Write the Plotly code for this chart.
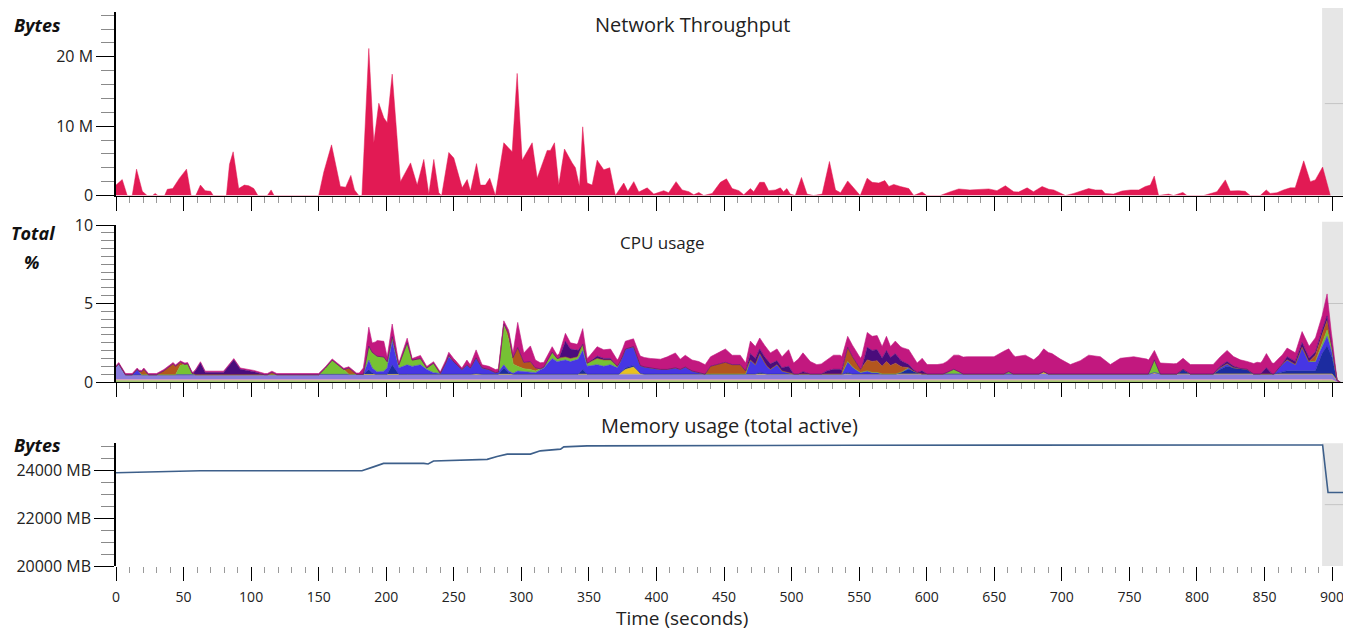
import plotly.graph_objects as go

# ---------------- DATA ----------------
# Network throughput (time in s, value in MB/s -> shown as "M")
NET_T = [0, 4.6, 8.3, 12, 15.2, 19.5, 23, 27, 29, 31, 36, 38, 42, 47, 52.2, 55.6, 59, 62.5, 66, 70, 72,
         81.7, 84, 86.7, 90.8, 95, 98.3, 102, 105, 112, 114.8, 117, 150, 153.8, 159.5, 166, 170, 173.8, 176.5,
         179.7, 182, 187.1, 190.8, 194.5, 198.2, 200.7, 204.4, 210.5, 218, 222.9, 227.8, 231.5, 235.2, 238.9,
         241, 246.3, 250, 256.2, 259.9, 262.3, 266.8, 269.7, 273.4, 276.6, 280.8, 287, 293.2, 296.9, 300.6,
         308, 311.7, 319.1, 321.5, 324.5, 327.7, 331.9, 337.6, 340, 343, 345.4, 348.7, 352.4, 356.1, 361,
         365.4, 369.6, 375.8, 378.8, 383.2, 386.9, 393.1, 398, 405.4, 409, 414.5, 419, 424, 427.6, 431.3, 435,
         441.2, 447.3, 451.8, 456, 461, 464.6, 469.5, 472, 476.4, 479.8, 483, 488, 491.7, 494, 496.5, 499,
         502.7, 507.3, 511.4, 516.3, 522.6, 528, 532.5, 536.2, 541.5, 547, 550.8, 555.9, 559.6, 564.5, 569,
         572, 575.6, 580.5, 586.7, 590.4, 596.6, 600, 610, 617.5, 623.7, 632, 639.7, 645.9, 652, 658.2, 664.4,
         668, 674.3, 679, 685.4, 690.4, 694, 700.2, 702.7, 708.8, 713.8, 719.8, 724.8, 729.7, 732, 738.2,
         744.6, 750.8, 757, 761.8, 765.5, 768.4, 771.6, 779, 782.7, 789.6, 792.6, 805, 814.8, 821, 824.6,
         830.8, 835.7, 839.4, 846.8, 851.3, 854.2, 859.2, 864, 869, 872.7, 879, 883.9, 887.6, 893, 898.7]
NET_M = [1.5, 2.3, 0, 0, 3.8, 0.6, 0, 0, 0.3, 0, 0, 0.9, 1.0, 2.5, 3.8, 0, 0, 1.5, 0.7, 0.6, 0,
         0, 4.5, 6.3, 1.0, 1.5, 1.4, 1.0, 0, 0, 0.8, 0, 0, 3.4, 7.3, 1.3, 1.2, 2.9, 0.8,
         0, 0, 21.2, 7.6, 13.3, 11.2, 10.5, 17.5, 2.0, 4.7, 1.5, 5.2, 0.2, 5.2, 0.4,
         0, 6.2, 5.4, 1.1, 2.3, 0.6, 4.6, 1.5, 1.5, 2.5, 0, 7.6, 6.3, 17.6, 5.1,
         7.6, 2.5, 6.5, 6.5, 7.6, 1.5, 6.7, 4.7, 4.0, 1.3, 9.9, 1.8, 1.5, 5.1, 3.7,
         4.0, 0, 1.8, 0.6, 2.0, 0.5, 1.1, 0.2, 0.7, 0.4, 2.0, 0.8, 0.55, 0.1, 0.45, 0,
         0.3, 1.9, 2.4, 1.0, 0.7, 0.1, 1.0, 0.55, 1.9, 1.9, 0.7, 0.8, 1.1, 0.55, 1.0, 0.2,
         0, 2.6, 0.2, 0, 0.2, 4.9, 0.8, 0.4, 2.1, 0.9, 0, 2.5, 1.9, 1.8, 2.15,
         1.3, 1.6, 1.3, 1.0, 0, 0.5, 0, 0, 0.55, 0.95, 0.8, 0.85, 0.95, 0.7, 1.4, 0.55,
         0.5, 1.1, 0.55, 1.3, 0.9, 0.8, 0.3, 0, 0.3, 0.65, 1.0, 0.8, 0.8, 0.3, 0.2,
         0.65, 0.8, 0.8, 1.3, 1.5, 2.8, 0, 0.2, 0, 0.45, 0, 0, 0.55, 2.25, 0.65,
         0.7, 0.6, 0, 0, 0.8, 0.3, 0.4, 0.8, 1.1, 1.1, 5.0, 2.0, 2.25, 4.1, 0]

# CPU usage layers (stacked, bottom -> top), time in s, value in %
CPU_BASE_GREEN_T = [0, 900, 903.7, 906]
CPU_BASE_GREEN_V = [0.1, 0.1, 0, 0]
CPU_BASE_PINK_T = [0, 900, 903.7, 906]
CPU_BASE_PINK_V = [0.06, 0.06, 0, 0]
CPU_LAVENDER_T = [0, 2, 7, 150, 155, 600, 900, 903.7, 906]
CPU_LAVENDER_V = [0.8, 1.0, 0.3, 0.3, 0.33, 0.35, 0.35, 0.1, 0]
CPU_GOLD_T = [0, 372, 377, 383, 388, 391, 683, 686.6, 690, 765, 768.5, 772, 906]
CPU_GOLD_V = [0, 0, 0.3, 0.45, 0.05, 0, 0, 0.15, 0, 0, 0.1, 0, 0]
CPU_NAVY_T = [0, 183, 187.1, 189.6, 192, 200.7, 204.4, 209.3, 263, 266.5, 270, 283, 287, 290.6, 294,
              342, 345.4, 348.7, 373, 377, 383, 387, 473.2, 476.4, 480, 538, 541.5, 545, 577, 580.5,
              586.7, 592.9, 596, 785, 789.7, 795.1, 812, 817.3, 822.3, 827.2, 837, 842, 857, 861.7,
              866.7, 872.8, 877.8, 882.7, 887.6, 892.6, 896.3, 899.5, 903.7, 906]
CPU_NAVY_V = [0, 0, 0.3, 0.1, 0, 0, 0.6, 0, 0, 0.05, 0, 0, 0.4, 0.1, 0,
              0, 0.3, 0, 0, 0.1, 0.1, 0, 0, 0.1, 0, 0, 0.1, 0, 0, 0.1,
              0.3, 0.1, 0, 0, 0.3, 0, 0, 0.3, 0.5, 0.4, 0.3, 0, 0, 0.1,
              0.2, 0.2, 0.2, 0.2, 0.2, 1.3, 1.8, 1.2, 0, 0]
CPU_BLUE_T = [0, 12, 15.7, 19, 183, 187.1, 189.6, 193.3, 198.2, 200.7, 204.4, 209.3, 215.5, 219.2,
              225.3, 230, 235, 240, 246.3, 251, 256, 259.7, 262.2, 266.5, 271, 276, 280.8, 287, 290.6,
              293.8, 297.3, 301.8, 306.7, 310.4, 316.6, 322.8, 326.5, 332.6, 336.3, 341.3, 345.4, 348.7,
              356.1, 361, 366, 371, 377, 383, 388, 395.4, 403, 408, 414, 417.6, 421.3, 426.3, 431.3,
              435, 466, 469.5, 473.2, 476.4, 481.8, 484.3, 489.2, 492.9, 497.8, 501.5, 537, 541.5,
              547.2, 551, 556, 559.6, 563.3, 567, 582, 586.7, 590, 812, 817.3, 822.3, 827, 857,
              861.7, 866.7, 872.8, 877.8, 882.7, 887.6, 892.6, 896.3, 899.5, 903.7, 906]
CPU_BLUE_V = [0, 0, 0.35, 0, 0, 0.6, 0.3, 0.15, 0.2, 0.4, 1.5, 0.4, 0.6, 0.5,
              0.6, 0.3, 0.1, 0.05, 1.1, 0.7, 0.3, 0.6, 0.4, 1.0, 0.4, 0.3, 0.1, 0.2, 0.1,
              0.05, 0.2, 0.15, 0.1, 0.1, 0.4, 1.0, 0.8, 0.9, 0.8, 0.9, 1.2, 0.5,
              0.6, 0.5, 0.6, 0.4, 1.2, 1.2, 0.5, 0.4, 0.3, 0.3, 0.4, 0.3, 0.45, 0.2, 0.1,
              0, 0, 0.9, 0.6, 1.2, 0.5, 0.3, 0.6, 0.2, 0.1, 0, 0, 0.7,
              0.3, 0.1, 0.2, 0.1, 0.1, 0, 0, 0.1, 0, 0, 0.1, 0.15, 0, 0,
              0.4, 0.7, 0.4, 1.5, 0.6, 0.6, 0.4, 0.6, 0.3, 0, 0]
CPU_GREEN_T = [0, 44, 47.7, 53, 56.3, 59, 150, 155, 160, 168.6, 172, 183, 187.1, 189.6, 193.3, 198.2,
               200.7, 204.4, 209.3, 215.5, 219.2, 225.3, 230, 235, 240, 244, 246.3, 250, 283, 287,
               290.6, 293.8, 297.3, 301.8, 306.7, 310.4, 316.6, 322.8, 326.5, 332.6, 341.3, 345.4,
               348.7, 356.1, 361, 366, 371, 375, 612, 615, 620, 623.7, 627, 657, 660.7, 664, 764,
               768.5, 772.9, 888, 892.6, 896.3, 899.5, 903.7, 906]
CPU_GREEN_V = [0, 0, 0.6, 0.7, 0.1, 0, 0, 0.4, 0.9, 0.3, 0, 0, 0.9, 1.0, 1.0, 0.9,
               0.4, 0.3, 0.2, 1.4, 0.4, 0.4, 0.1, 0.6, 0, 0, 0.1, 0, 0, 2.6,
               2.0, 0.6, 0.3, 0.2, 0.2, 0.1, 0.05, 0.4, 0.2, 0.2, 0.2, 0.4,
               0.2, 0.4, 0.4, 0.3, 0.1, 0, 0, 0.1, 0.3, 0.15, 0, 0, 0.15, 0, 0,
               0.8, 0, 0, 0.3, 0.4, 0.2, 0, 0]
CPU_BROWN_T = [0, 17, 20.6, 24, 30, 35.4, 42.3, 47.7, 51, 112, 115.4, 119, 168.6, 172.3, 178, 287,
               290.6, 293.8, 297.3, 301.8, 306.7, 310.4, 314, 436, 440, 451, 456, 462, 466, 469.5,
               537, 541.5, 547.2, 551, 556, 559.6, 563.3, 567, 570.2, 573.2, 576.8, 580.5, 586.7,
               883, 887.6, 892.6, 896.3, 899.5, 903.7, 906]
CPU_BROWN_V = [0, 0, 0.35, 0, 0, 0.25, 0.7, 0.2, 0, 0, 0.15, 0, 0, 0.4, 0, 0,
               0.4, 0.4, 1.2, 0.4, 0.5, 0.2, 0, 0, 0.5, 0.75, 0.6, 0.6, 0.2, 0,
               0, 0.9, 0.5, 0.2, 0.7, 0.7, 0.75, 0.5, 0.8, 0.55, 0.7, 0.4, 0,
               0, 0.4, 0.5, 0.6, 0.2, 0, 0]
CPU_DPURPLE_T = [0, 57, 62.5, 66, 79.6, 87.2, 92, 101.9, 106.8, 110, 328, 332.6, 336.3, 341.3, 345.4,
                 350, 356.1, 361, 366, 371, 466, 469.5, 473.2, 476.4, 481.8, 484.3, 489.2, 492.9,
                 497.8, 501.5, 505, 508.4, 513.8, 522, 526.1, 531, 536, 540, 552, 556, 559.6, 563.3,
                 567, 570.2, 573.2, 576.8, 580.5, 586.7, 592.9, 596.6, 600.3, 812, 817.3, 822.3,
                 827.2, 832, 847, 851.4, 855.6, 863, 866.7, 872.8, 877.8, 882.7, 887.6, 892.6, 896.3,
                 899.5, 906]
CPU_DPURPLE_V = [0, 0, 0.75, 0.15, 0.15, 0.95, 0.35, 0.2, 0.05, 0, 0, 1.0, 0.6, 0.4, 0,
                 0, 0.15, 0.1, 0.1, 0, 0, 0.4, 0.4, 0.3, 0.4, 0.35, 0.25, 0.2,
                 0.4, 0, 0, 0.15, 0, 0, 0.2, 0.3, 0.3, 0, 0, 0.8, 0.7, 0.7,
                 0.5, 0.7, 0.5, 0.6, 0.4, 0.2, 0, 0.2, 0, 0, 0.1, 0.15,
                 0.1, 0, 0, 0.4, 0, 0, 0.2, 0.2, 0.3, 0.2, 0.2, 0.3, 0.3,
                 0, 0]
CPU_MAGENTA_T = [0, 180, 184, 187.1, 189.6, 193.3, 198.2, 200.7, 204.4, 209.3, 215.5, 219.2, 225.3, 230,
                 240, 246.3, 251, 256, 259.7, 262.2, 266.5, 271, 280.8, 287, 290.6, 293.8, 297.3, 301.8,
                 306.7, 310.4, 316.6, 322.8, 326.5, 332.6, 336.3, 341.3, 345.4, 348.7, 356.1, 361, 366,
                 371, 377, 383, 388, 395.4, 403, 408, 414, 417.6, 421.3, 426.3, 431.3, 435, 440, 451,
                 456, 462, 466, 469.5, 473.2, 476.4, 481.8, 484.3, 489.2, 492.9, 497.8, 501.5, 508.4,
                 513.8, 518.7, 526.1, 531, 536, 541.5, 547.2, 551, 556, 559.6, 563.3, 567, 570.2, 573.2,
                 576.8, 580.5, 586.7, 592.9, 596.6, 600.3, 607.7, 615, 623.7, 630, 640, 649.8, 657,
                 660.7, 665.6, 673, 679.2, 686.6, 692.7, 698.9, 706.3, 713.7, 719.9, 728.5, 735.9,
                 743.3, 753.2, 763, 768.5, 772.9, 782.8, 789.7, 795.1, 807.4, 817.3, 822.3, 827.2, 837,
                 844.5, 848.2, 851.4, 855.6, 861.7, 866.7, 872.8, 877.8, 882.7, 887.6, 892.6, 896.3,
                 899.5, 903.7, 906]
CPU_MAGENTA_V = [0.08, 0.08, 0.5, 1.2, 0.6, 1.0, 1.0, 0.3, 0.8, 0.1, 0.3, 0.1, 0.2, 0.1,
                 0.1, 0.2, 0.2, 0.1, 0.3, 0.2, 0.5, 0.2, 0.2, 0.2, 0.2, 0.3, 1.6, 0.6,
                 1.0, 0.5, 0.3, 0.35, 0.2, 0.5, 0.4, 0.4, 1.0, 0.3, 0.6, 0.55, 0.6,
                 0.4, 0.5, 0.5, 0.6, 0.6, 0.65, 0.8, 0.95, 0.65, 0.75, 0.7, 0.7, 0.6, 0.6, 0.85,
                 0.6, 0.6, 0.5, 0.8, 0.75, 0.7, 0.75, 0.7, 0.75, 0.7, 1.05, 0.7, 1.2,
                 0.8, 0.6, 0.7, 0.9, 0.9, 0.7, 0.75, 0.7, 0.95, 0.9, 0.9, 0.75, 0.9, 0.7,
                 0.8, 0.85, 0.95, 0.6, 0.8, 0.6, 0.6, 0.7, 1.05, 1.1, 1.1, 1.1, 1.45,
                 1.45, 1.1, 1.2, 0.9, 1.45, 1.3, 0.95, 0.6, 0.85, 1.2, 1.1, 0.6,
                 1.0, 1.1, 0.95, 0.6, 0.7, 0.65, 0.7, 0.6, 0.6, 0.6, 0.7, 0.6, 0.5,
                 0.75, 0.7, 0.9, 0.7, 0.6, 0.55, 0.55, 0.7, 0.75, 0.9, 0.9, 1.4,
                 0.7, 0, 0]

# Memory usage (total active), MB
MEM_T = [0, 30, 62.5, 100, 149, 160, 182, 190, 198, 227.8, 231, 235, 274.7, 282, 289.5, 306.7, 314,
         329, 331.4, 348.7, 479.4, 543.5, 890, 893, 897, 911]
MEM_MB = [23917, 23950, 24000, 24000, 23985, 24000, 24000, 24150, 24306, 24306, 24280, 24404, 24475,
          24600, 24696, 24696, 24833, 24904, 25000, 25042, 25042, 25070, 25080, 25080, 23083, 23083]

NET_TICKS = [0, 10, 20]
NET_TICK_TEXT = ["0", "10 M", "20 M"]
CPU_TICKS = [0, 5, 10]
MEM_TICKS = [20000, 22000, 24000]
MEM_TICK_TEXT = ["20000 MB", "22000 MB", "24000 MB"]

# ---------------- FIGURE ----------------
# the page body has an 8px margin, so the figure is drawn 8px in from the window corner
OFF = 8
W, H = 1351 - OFF, 630 - OFF
L_MARGIN = 116 - OFF
FONT = "Open Sans"
X_END = 914
SEL_START = 892.6


def py(pix):  # window pixel row -> paper fraction
    return 1 - (pix - OFF) / H


def px(pix):  # window pixel column -> paper fraction
    return (pix - OFF - L_MARGIN) / (W - L_MARGIN)


fig = go.Figure()

NET_COLOR = "rgb(226,26,84)"
fig.add_trace(go.Scatter(x=NET_T, y=NET_M, xaxis="x", yaxis="y", mode="lines", fill="tozeroy",
                         line=dict(color=NET_COLOR, width=0.5), fillcolor=NET_COLOR,
                         hoverinfo="skip", showlegend=False))

cpu_layers = [
    (CPU_BASE_GREEN_T, CPU_BASE_GREEN_V, "#A3C56E"),
    (CPU_BASE_PINK_T, CPU_BASE_PINK_V, "#E49AB0"),
    (CPU_LAVENDER_T, CPU_LAVENDER_V, "#8A7CDC"),
    (CPU_GOLD_T, CPU_GOLD_V, "#E8C21E"),
    (CPU_NAVY_T, CPU_NAVY_V, "#1C2CA0"),
    (CPU_BLUE_T, CPU_BLUE_V, "#4636E4"),
    (CPU_GREEN_T, CPU_GREEN_V, "#76C234"),
    (CPU_BROWN_T, CPU_BROWN_V, "#B3561E"),
    (CPU_DPURPLE_T, CPU_DPURPLE_V, "#4A0C7C"),
    (CPU_MAGENTA_T, CPU_MAGENTA_V, "#C2187F"),
]
for t, v, c in cpu_layers:
    fig.add_trace(go.Scatter(x=t, y=v, xaxis="x2", yaxis="y2", mode="lines", stackgroup="cpu",
                             stackgaps="interpolate", line=dict(color=c, width=0.6), fillcolor=c,
                             hoverinfo="skip", showlegend=False))

fig.add_trace(go.Scatter(x=MEM_T, y=MEM_MB, xaxis="x3", yaxis="y3", mode="lines",
                         line=dict(color="#3D5F8A", width=1.6), hoverinfo="skip", showlegend=False))

minor_x = dict(dtick=10, tick0=0, ticks="outside", ticklen=6, tickcolor="#9a9a9a", tickwidth=1.2,
               showgrid=False)


def xaxis(anchor, showline, labels):
    return dict(domain=[0, 1], anchor=anchor, range=[0, X_END], showline=showline, linecolor="#000",
                linewidth=1.2, ticks="outside", tick0=0, dtick=50, ticklen=14, tickcolor="#000",
                tickwidth=1.3, showticklabels=labels, showgrid=False, zeroline=False,
                tickfont=dict(family=FONT, size=14, color="#222"), minor=minor_x, automargin=False,
                fixedrange=True)


def yaxis(anchor, dom, rng, tickvals, ticktext, minor_dtick, ticklen):
    return dict(domain=dom, anchor=anchor, range=rng, showline=True, linecolor="#000", linewidth=1.5,
                ticks="outside", tickvals=tickvals, ticktext=ticktext, ticklen=ticklen,
                tickcolor="#000", tickwidth=1.3, showgrid=False, zeroline=False,
                tickfont=dict(family=FONT, size=16, color="#222"),
                minor=dict(dtick=minor_dtick, tick0=0, ticks="outside", ticklen=13, tickcolor="#8a8a8a",
                           tickwidth=1.2, showgrid=False),
                automargin=False, fixedrange=True)


fig.update_layout(
    width=W, height=H, template="none",
    margin=dict(l=L_MARGIN, r=0, t=0, b=0),
    paper_bgcolor="white", plot_bgcolor="white",
    font=dict(family=FONT, color="#222"),
    showlegend=False,
    xaxis=xaxis("y", True, False),
    xaxis2=xaxis("y2", True, False),
    xaxis3=xaxis("y3", False, True),
    yaxis=yaxis("x", [py(195.5), py(11.7)], [0, 26.5], NET_TICKS, NET_TICK_TEXT, 2, 18),
    yaxis2=yaxis("x2", [py(382), py(225)], [0, 10], CPU_TICKS, [str(v) for v in CPU_TICKS], 0.5, 18),
    yaxis3=yaxis("x3", [py(566), py(443.3)], [20000, 25150], MEM_TICKS, MEM_TICK_TEXT, 500, 20),
)
fig.update_xaxes(ticklabelstandoff=4)

# gray selection region on the right of each panel
for xr, yr, y0, y1 in [("x", "y", 0, 1.02), ("x2", "y2", 0, 1.02), ("x3", "y3", 0, 1)]:
    fig.add_shape(type="rect", xref=xr, yref=yr + " domain", x0=SEL_START, x1=X_END, y0=y0, y1=y1,
                  fillcolor="#E6E6E6", line=dict(width=0), layer="below")
    fig.add_shape(type="line", xref=xr, yref=yr + " domain", x0=SEL_START + 2, x1=X_END - 2, y0=0.5,
                  y1=0.5, line=dict(color="#C4C4C4", width=1), layer="below")

ann = [
    dict(text="Network Throughput", x=px(692), y=py(25), size=20, color="#222"),
    dict(text="CPU usage", x=px(662), y=py(242), size=17, color="#222"),
    dict(text="Memory usage (total active)", x=px(729.5), y=py(425), size=20, color="#222"),
    dict(text="<b><i>Bytes</i></b>", x=px(37), y=py(25), size=18, color="#111"),
    dict(text="<b><i>Total</i></b>", x=px(33.5), y=py(233), size=18, color="#111"),
    dict(text="<b><i>%</i></b>", x=px(31), y=py(262), size=18, color="#111"),
    dict(text="<b><i>Bytes</i></b>", x=px(37), y=py(445), size=18, color="#111"),
    dict(text="Time (seconds)", x=px(682), y=py(618), size=19, color="#222"),
]
for a in ann:
    fig.add_annotation(text=a["text"], x=a["x"], y=a["y"], xref="paper", yref="paper",
                       xanchor="center", yanchor="middle", showarrow=False,
                       font=dict(family=FONT, size=a["size"], color=a["color"]))

fig.write_html("out.html")
